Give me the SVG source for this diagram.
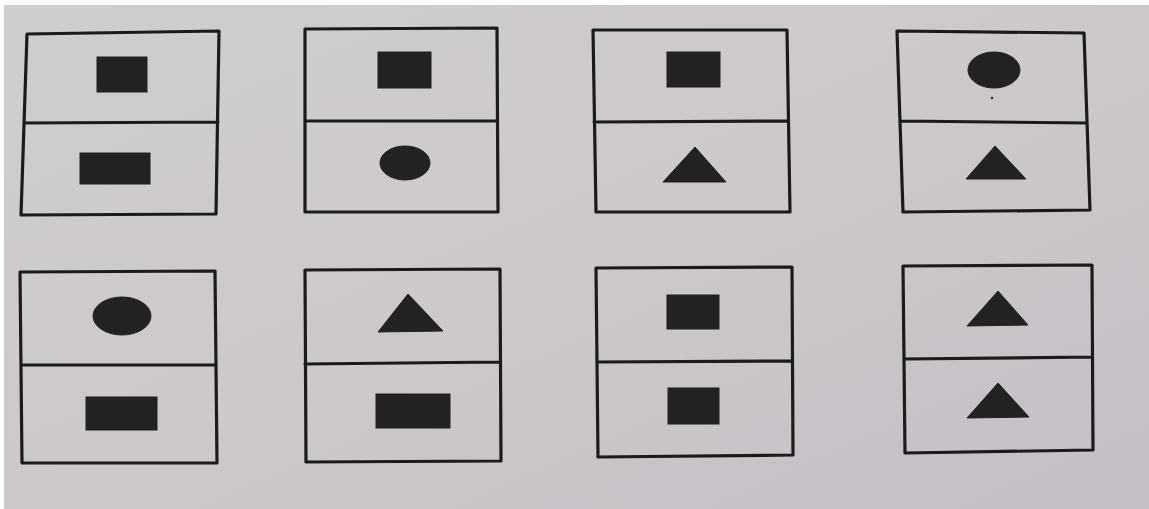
<svg xmlns="http://www.w3.org/2000/svg" width="1149" height="509" viewBox="0 0 1149 509">
<defs>
<style>
.frame{fill:none;stroke:#1b1a1c;stroke-width:3.2;stroke-linejoin:round;stroke-linecap:round}
.shape{fill:#232123;stroke:#232123;stroke-width:1}
</style>
<linearGradient id="bg" x1="0" y1="0" x2="1" y2="1">
<stop offset="0" stop-color="#d0cdd0"/>
<stop offset="0.5" stop-color="#ccc8cc"/>
<stop offset="1" stop-color="#c4bfc4"/>
</linearGradient>
</defs>
<rect width="1149" height="509" fill="#ffffff"/>
<rect x="4" y="5" width="1145" height="504" fill="url(#bg)"/>

<g id="card1">
<path class="frame" d="M27,34 L219,31 L216,214 L21,215 Z M24,123 L218,122"/>
<rect class="shape" x="97" y="57" width="50" height="35"/>
<rect class="shape" x="80" y="153" width="70" height="31"/>
</g>

<g id="card2">
<path class="frame" d="M305,29 L497,28 L498,212 L305,212 Z M305,121 L497,121"/>
<rect class="shape" x="378" y="52" width="53" height="36"/>
<ellipse class="shape" cx="405" cy="163" rx="25" ry="17"/>
</g>

<g id="card3">
<path class="frame" d="M593,30 L787,30 L790,212 L596,212 Z M594,122 L788,121"/>
<rect class="shape" x="667" y="52" width="53" height="35"/>
<polygon class="shape" points="695,147 726,182 663,182"/>
</g>

<g id="card4">
<path class="frame" d="M897,31 L1084,33 L1090,210 L903,212 Z M900,121 L1087,123"/>
<ellipse class="shape" cx="994" cy="70" rx="26" ry="18"/>
<circle cx="992" cy="98" r="1.2" fill="#232123"/>
<polygon class="shape" points="995,146 1026,179 966,179"/>
</g>

<g id="card5">
<path class="frame" d="M20,272 L215,271 L217,463 L22,463 Z M21,365 L216,365"/>
<ellipse class="shape" cx="122" cy="316" rx="29" ry="19"/>
<rect class="shape" x="86" y="397" width="71" height="33"/>
</g>

<g id="card6">
<path class="frame" d="M305,270 L500,269 L501,461 L306,462 Z M305,364 L500,362"/>
<polygon class="shape" points="408,294 443,331 378,332"/>
<rect class="shape" x="376" y="394" width="74" height="34"/>
</g>

<g id="card7">
<path class="frame" d="M596,268 L792,267 L793,455 L598,457 Z M597,362 L792,361"/>
<rect class="shape" x="667" y="295" width="52" height="34"/>
<rect class="shape" x="668" y="388" width="51" height="36"/>
</g>

<g id="card8">
<path class="frame" d="M903,266 L1092,265 L1093,450 L905,453 Z M904,359 L1092,357"/>
<polygon class="shape" points="998,291 1028,325 967,326"/>
<polygon class="shape" points="998,383 1029,417 967,418"/>
</g>
</svg>
